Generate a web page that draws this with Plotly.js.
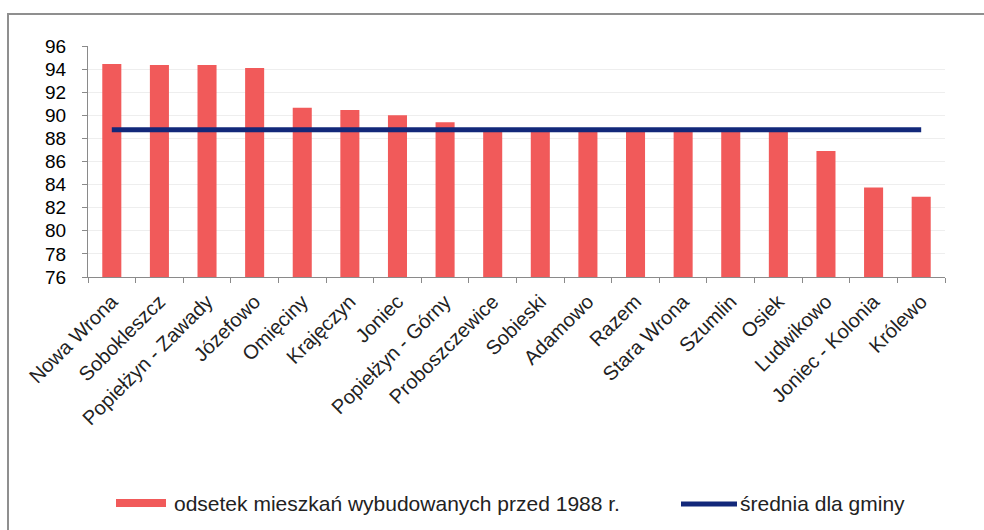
<!DOCTYPE html>
<html>
<head>
<meta charset="utf-8">
<script src="https://cdn.plot.ly/plotly-3.0.1.min.js"></script>
<style>
  html, body { margin: 0; padding: 0; background: #ffffff; }
  #chart { position: absolute; left: 0; top: 0; width: 984px; height: 530px; }
  #frame { position: absolute; left: 7px; top: 13px; width: 1000px; height: 600px;
           border: 2px solid #8f8f8f; pointer-events: none; }
</style>
</head>
<body>
<div id="chart"></div>
<div id="frame"></div>
<script>
const categories = ["Nowa Wrona", "Sobokleszcz", "Popiełżyn - Zawady", "Józefowo", "Omięciny",
  "Krajęczyn", "Joniec", "Popiełżyn - Górny", "Proboszczewice", "Sobieski", "Adamowo", "Razem",
  "Stara Wrona", "Szumlin", "Osiek", "Ludwikowo", "Joniec - Kolonia", "Królewo"];
const shareBefore1988 = [94.45, 94.35, 94.35, 94.1, 90.65, 90.45, 90.0, 89.4, 88.6, 88.6, 88.6, 88.6,
  88.6, 88.6, 88.6, 86.9, 83.75, 82.95];
const gminaAverage = [88.75, 88.75, 88.75, 88.75, 88.75, 88.75, 88.75, 88.75, 88.75, 88.75, 88.75,
  88.75, 88.75, 88.75, 88.75, 88.75, 88.75, 88.75];
const yTicks = [76, 78, 80, 82, 84, 86, 88, 90, 92, 94, 96];
const legendLabels = ["odsetek mieszkań wybudowanych przed 1988 r.", "średnia dla gminy"];

const barColor = "#f15a5a";
const lineColor = "#12287a";

const traces = [
  { type: "bar", x: categories, y: shareBefore1988, name: legendLabels[0],
    marker: { color: barColor }, showlegend: false, hoverinfo: "x+y" },
  { type: "scatter", mode: "lines", x: categories, y: gminaAverage, name: legendLabels[1],
    line: { color: lineColor, width: 5 }, showlegend: false }
];

// plot area: x 88..945 px, y 46..277 px
const L = 88, R = 945, T = 46, B = 277;
const px = v => (v - L) / (R - L);
const py = v => (B - v) / (B - T);

const layout = {
  width: 984, height: 530,
  margin: { l: L, r: 984 - R, t: T, b: 530 - B, pad: 0 },
  paper_bgcolor: "rgba(0,0,0,0)", plot_bgcolor: "#ffffff",
  bargap: 0.6,
  showlegend: false,
  font: { family: "Arial, 'Liberation Sans', sans-serif", color: "#111" },
  xaxis: {
    type: "category", tickangle: -45, tickfont: { size: 20, color: "#222" },
    showline: true, linecolor: "#8a8a8a", linewidth: 1,
    ticks: "outside", tickson: "boundaries", ticklen: 5, tickcolor: "#8a8a8a",
    ticklabelstandoff: 4,
    showgrid: false, automargin: false
  },
  yaxis: {
    range: [76, 96], tickvals: yTicks, ticktext: yTicks.map(String),
    tickfont: { size: 19, color: "#000" },
    showline: true, linecolor: "#8a8a8a", linewidth: 1,
    ticks: "outside", ticklen: 5, tickcolor: "#8a8a8a", ticklabelstandoff: 12,
    showgrid: true, gridcolor: "#eeeeee", gridwidth: 1, zeroline: false, automargin: false
  },
  shapes: [
    { type: "rect", xref: "paper", yref: "paper", x0: px(116), x1: px(166), y0: py(507), y1: py(499),
      fillcolor: barColor, line: { width: 0 } },
    { type: "line", xref: "paper", yref: "paper", x0: px(681), x1: px(737), y0: py(504), y1: py(504),
      line: { color: lineColor, width: 5 } }
  ],
  annotations: [
    { xref: "paper", yref: "paper", x: px(172), y: py(503), xanchor: "left", yanchor: "middle",
      text: legendLabels[0], showarrow: false, font: { size: 21, color: "#222" } },
    { xref: "paper", yref: "paper", x: px(738), y: py(503), xanchor: "left", yanchor: "middle",
      text: legendLabels[1], showarrow: false, font: { size: 21, color: "#222" } }
  ]
};

Plotly.newPlot("chart", traces, layout, { displayModeBar: false, staticPlot: true });
</script>
</body>
</html>
